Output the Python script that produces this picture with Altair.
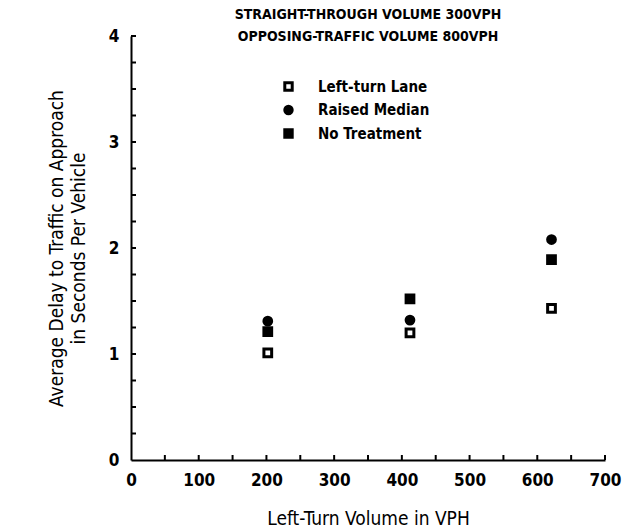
import altair as alt
import pandas as pd

FONT = "DejaVu Sans Condensed, Liberation Sans Narrow, sans-serif"

# Data
volume = [202, 202, 202, 412, 412, 412, 621, 621, 621]
delay = [1.01, 1.31, 1.21, 1.20, 1.32, 1.52, 1.43, 2.08, 1.89]
treatment = ["Left-turn Lane", "Raised Median", "No Treatment"] * 3
order = ["Left-turn Lane", "Raised Median", "No Treatment"]

x_ticks = list(range(0, 701, 100))
x_minor = list(range(50, 701, 50))
y_ticks = [0, 1, 2, 3, 4]
y_minor = [0.25 * i for i in range(1, 17)]
title_lines = ["STRAIGHT-THROUGH VOLUME 300VPH", "OPPOSING-TRAFFIC VOLUME 800VPH"]

df = pd.DataFrame({"volume": volume, "delay": delay, "treatment": treatment})
xscale = alt.Scale(domain=[0, 700], nice=False)
yscale = alt.Scale(domain=[0, 4], nice=False)

W, H = 474, 424

leg = dict(title=None, orient="none", legendX=150, legendY=43,
           labelFont=FONT, labelFontSize=15, labelFontWeight="bold",
           labelColor="black", rowPadding=2.5, symbolStrokeWidth=3,
           symbolSize=55, labelOffset=22, padding=0)

points = alt.Chart(df).mark_point(size=60, strokeWidth=3, opacity=1).encode(
    x=alt.X("volume:Q", scale=xscale,
            axis=alt.Axis(values=x_ticks, title="Left-Turn Volume in VPH", grid=False, tickSize=0,
                          labelPadding=12, labelFontSize=17, labelFont=FONT, labelFontWeight="bold",
                          labelColor="black", format="d",
                          titleFont=FONT, titleFontSize=19, titleFontWeight="normal", titleColor="black",
                          titlePadding=21, domainColor="black", domainWidth=2, labelFlush=False)),
    y=alt.Y("delay:Q", scale=yscale,
            axis=alt.Axis(values=y_ticks, title=["Average Delay to Traffic on Approach", "in Seconds Per Vehicle"],
                          grid=False, tickSize=0, labelPadding=12, labelFontSize=17, labelFont=FONT,
                          labelFontWeight="bold", labelColor="black", format="d",
                          titleFont=FONT, titleFontSize=19,
                          titleFontWeight="normal", titleLineHeight=22,
                          titleColor="black", titlePadding=20, domainColor="black", domainWidth=2,
                          labelFlush=False)),
    shape=alt.Shape("treatment:N", sort=order,
                    scale=alt.Scale(domain=order, range=["square", "circle", "square"]),
                    legend=alt.Legend(**leg)),
    fill=alt.Fill("treatment:N", sort=order,
                  scale=alt.Scale(domain=order, range=["white", "black", "black"]),
                  legend=alt.Legend(**leg)),
    stroke=alt.Stroke("treatment:N", sort=order,
                      scale=alt.Scale(domain=order, range=["black", "black", "black"]),
                      legend=alt.Legend(**leg)),
)

xt = alt.Chart(pd.DataFrame({"t": x_minor})).mark_rule(color="black", strokeWidth=2).encode(
    x=alt.X("t:Q", scale=xscale), y=alt.value(H), y2=alt.value(H - 5))
yt = alt.Chart(pd.DataFrame({"t": y_minor})).mark_rule(color="black", strokeWidth=2).encode(
    y=alt.Y("t:Q", scale=yscale), x=alt.value(0), x2=alt.value(5))

t1 = alt.Chart(pd.DataFrame({"line": [title_lines[0]]})).mark_text(
    font=FONT, fontSize=14, fontWeight="bold", color="black", baseline="middle", align="center").encode(
    text="line:N", x=alt.value(W / 2), y=alt.value(-21))
t2 = alt.Chart(pd.DataFrame({"line": [title_lines[1]]})).mark_text(
    font=FONT, fontSize=14, fontWeight="bold", color="black", baseline="middle", align="center").encode(
    text="line:N", x=alt.value(W / 2), y=alt.value(1))

chart = alt.layer(points, xt, yt, t1, t2).properties(
    width=W, height=H, autosize="none", background="white",
    padding={"left": 131, "top": 36, "right": 37, "bottom": 72},
).configure_view(stroke=None)

chart.save("out.html", embed_options={"renderer": "svg", "actions": False})
